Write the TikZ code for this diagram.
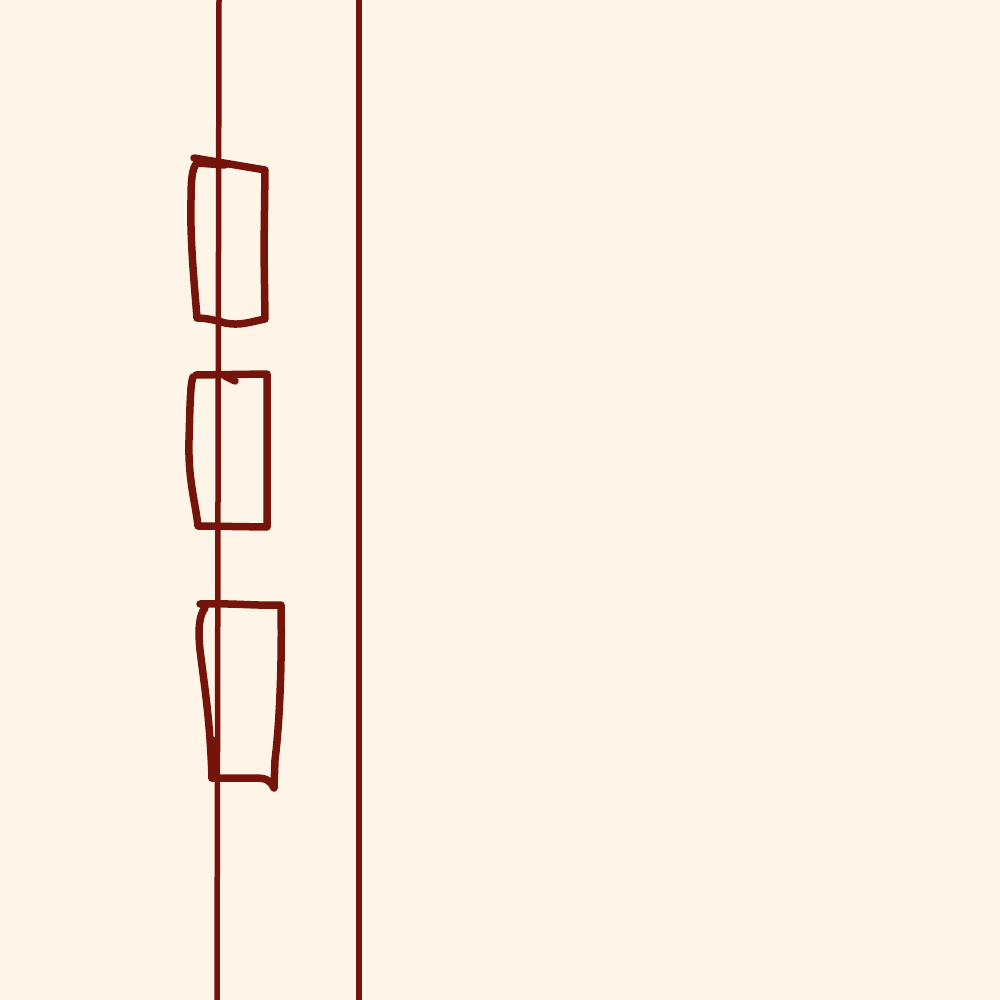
\documentclass[tikz,border=0pt]{standalone}
\definecolor{bgc}{HTML}{FEF4E8}
\definecolor{ink}{HTML}{74140A}
\tikzset{
  rail/.style={draw=ink, line width=5.5pt},
  sketch/.style={draw=ink, line width=7.5pt, line cap=round, line join=round}
}
\begin{document}
\begin{tikzpicture}[x=1pt,y=-1pt]
\fill[bgc] (0,0) rectangle (1000,1000);
\useasboundingbox (0,0) rectangle (1000,1000);
% rails
\coordinate (l1) at (219,0); \coordinate (l2) at (217,1000);
\coordinate (r1) at (359,0); \coordinate (r2) at (359,1000);
\draw[rail] (l1) -- (l2);
\draw[rail] (r1) -- (r2);
% box 1
\draw[sketch] (194,158) -- (265,170) -- (264,250) -- (265,319)
  .. controls (250,322) and (240,326) .. (225,323)
  .. controls (215,320) and (205,318) .. (197,318)
  .. controls (194,280) and (190,240) .. (191,200)
  .. controls (191,180) and (192,168) .. (197,163) -- (225,165);
% box 2
\draw[sketch] (196,375) -- (267,374) -- (267,430) -- (267,527) -- (198,526)
  .. controls (195,500) and (188,480) .. (189,440)
  .. controls (190,410) and (190,385) .. (193,377);
\draw[sketch] (225,376) -- (235,381);
% box 3
\draw[sketch] (200,604) .. controls (230,603) and (260,606) .. (281,605)
  .. controls (282,660) and (280,720) .. (275,760)
  -- (274,788)
  .. controls (270,780) and (266,778) .. (255,778)
  -- (212,778)
  .. controls (210,720) and (205,690) .. (200,650)
  .. controls (198,630) and (199,615) .. (205,608);
\draw[sketch] (212,778) -- (212,740);
\end{tikzpicture}
\end{document}
